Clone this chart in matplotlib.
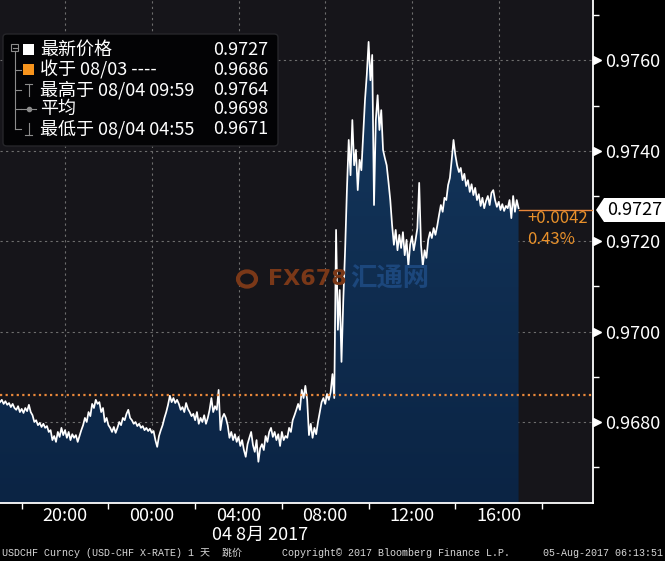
import numpy as np
import matplotlib
matplotlib.use('Agg')
import matplotlib.pyplot as plt
import matplotlib.patches as mpatches
import matplotlib.transforms as mtransforms
from matplotlib.colors import LinearSegmentedColormap

plt.rcParams['font.family'] = ['Noto Sans CJK SC', 'DejaVu Sans']

# USDCHF, 5 分钟一个点, 从 08/03 17:00 开始
start_hour = 17.0
step_min = 5
price = [
    0.96844, 0.96849, 0.96840, 0.96846, 0.96838, 0.96842, 0.96833, 0.96840, 0.96831, 0.96827,
    0.96835, 0.96822, 0.96829, 0.96820, 0.96831, 0.96824, 0.96838, 0.96822, 0.96815, 0.96800,
    0.96804, 0.96793, 0.96798, 0.96789, 0.96796, 0.96787, 0.96791, 0.96778, 0.96782, 0.96760,
    0.96769, 0.96756, 0.96778, 0.96767, 0.96787, 0.96771, 0.96782, 0.96765, 0.96778, 0.96760,
    0.96773, 0.96765, 0.96771, 0.96756, 0.96769, 0.96782, 0.96793, 0.96809, 0.96800, 0.96822,
    0.96813, 0.96840, 0.96831, 0.96849, 0.96840, 0.96844, 0.96822, 0.96831, 0.96800, 0.96809,
    0.96793, 0.96787, 0.96778, 0.96789, 0.96776, 0.96787, 0.96800, 0.96793, 0.96809, 0.96804,
    0.96818, 0.96827, 0.96809,
    # 21:00 - 04:00
    0.96804, 0.96796, 0.96800, 0.96791, 0.96796, 0.96787, 0.96791, 0.96782, 0.96787, 0.96780,
    0.96785, 0.96776, 0.96780, 0.96760, 0.96745, 0.96769, 0.96782, 0.96793, 0.96809, 0.96822,
    0.96838, 0.96858, 0.96844, 0.96853, 0.96842, 0.96849, 0.96840, 0.96827, 0.96833, 0.96822,
    0.96842, 0.96829, 0.96822, 0.96813, 0.96818, 0.96804, 0.96822, 0.96796, 0.96809, 0.96800,
    0.96815, 0.96796, 0.96809, 0.96827, 0.96853, 0.96822, 0.96835, 0.96827, 0.96871, 0.96782,
    0.96809, 0.96818, 0.96809, 0.96793, 0.96765, 0.96778, 0.96760, 0.96773, 0.96756, 0.96767,
    0.96747, 0.96760, 0.96738, 0.96723, 0.96751, 0.96765,
    # 04:30 - 08:25
    0.96778, 0.96749, 0.96734, 0.96760, 0.96712, 0.96742, 0.96751, 0.96738, 0.96769, 0.96756,
    0.96778, 0.96787, 0.96767, 0.96778, 0.96760, 0.96773, 0.96747, 0.96778, 0.96760, 0.96769,
    0.96765, 0.96787, 0.96778, 0.96804, 0.96815, 0.96827, 0.96840, 0.96827, 0.96871, 0.96853,
    0.96880, 0.96849, 0.96771, 0.96796, 0.96765, 0.96787, 0.96773, 0.96800, 0.96822, 0.96844,
    0.96853, 0.96840, 0.96862, 0.96849, 0.96866, 0.96906, 0.96853,
    # 08:30 - 16:55
    0.97225, 0.97004, 0.97092, 0.96933, 0.97070, 0.97180, 0.97313, 0.97424, 0.97346, 0.97468,
    0.97368, 0.97402, 0.97313, 0.97380, 0.97357, 0.97435, 0.97512, 0.97568, 0.97641, 0.97556,
    0.97612, 0.97280, 0.97468, 0.97523, 0.97446, 0.97490, 0.97402, 0.97384, 0.97368, 0.97331,
    0.97291, 0.97236, 0.97192, 0.97225, 0.97180, 0.97214, 0.97185, 0.97220, 0.97169, 0.97203,
    0.97145, 0.97192, 0.97211, 0.97180, 0.97203, 0.97229, 0.97329, 0.97192, 0.97145, 0.97180,
    0.97163, 0.97203, 0.97220, 0.97207, 0.97229, 0.97214, 0.97234, 0.97258, 0.97280, 0.97265,
    0.97296, 0.97291, 0.97324, 0.97340, 0.97380, 0.97424, 0.97391, 0.97368, 0.97353, 0.97362,
    0.97335, 0.97349, 0.97322, 0.97335, 0.97309, 0.97326, 0.97302, 0.97318, 0.97291, 0.97304,
    0.97278, 0.97296, 0.97273, 0.97289, 0.97300, 0.97280, 0.97307, 0.97313, 0.97291, 0.97276,
    0.97287, 0.97269, 0.97282, 0.97267, 0.97278, 0.97273, 0.97291, 0.97251, 0.97300, 0.97265,
    0.97291, 0.97273,
]
hours = start_hour + np.arange(len(price)) * step_min / 60.0

prev_close = 0.9686
last_price = 0.9727
change_txt = '+0.0042'
pct_txt = '0.43%'

leg_names = ['最新价格', '收于 08/03 ----', '最高于 08/04 09:59', '平均', '最低于 08/04 04:55']
leg_values = ['0.9727', '0.9686', '0.9764', '0.9698', '0.9671']

xtick_hours = [20, 24, 28, 32, 36, 40]
xtick_labels = ['20:00', '00:00', '04:00', '08:00', '12:00', '16:00']
xminor_hours = [18, 22, 26, 30, 34, 38, 42]
yticks = [0.9680, 0.9700, 0.9720, 0.9740, 0.9760]
yminor = [0.9670, 0.9690, 0.9710, 0.9730, 0.9750, 0.9770]

W, H = 665, 561
def fx(px):
    return px / W
def fy(py):
    return 1 - py / H

fig = plt.figure(figsize=(6.65, 5.61), dpi=100, facecolor='black')
ax = fig.add_axes([0, fy(503), fx(593), 503 / H])
ax.set_facecolor('#16151a')

xmin, xmax = 17.0, 44.35
ymin, ymax = 0.966208, 0.977336
ax.set_xlim(xmin, xmax)
ax.set_ylim(ymin, ymax)

# grid
for h in xtick_hours:
    ax.axvline(h, color='#6e6e6e', lw=0.8, ls=(0, (2, 3)), zorder=1)
for v in yticks:
    ax.axhline(v, color='#6e6e6e', lw=0.8, ls=(0, (2, 3)), zorder=1)

# area with gradient
poly = ax.fill_between(hours, price, ymin, color='none', lw=0, zorder=2)
cmap = LinearSegmentedColormap.from_list('fillc', ['#0b2444', '#153960'])
grad = np.linspace(1, 0, 256).reshape(-1, 1)
im = ax.imshow(grad, extent=[xmin, xmax, ymin, ymax], aspect='auto', cmap=cmap,
               origin='upper', zorder=2)
im.set_clip_path(poly.get_paths()[0], transform=ax.transData)
ax.set_xlim(xmin, xmax)
ax.set_ylim(ymin, ymax)

ax.plot(hours, price, color='white', lw=1.25, zorder=4)

# watermark
fig.text(fx(268), fy(279), 'FX678', color='#7a3818', fontsize=16, fontweight='bold',
         va='center', ha='left', zorder=3, family=['DejaVu Sans'])
fig.text(fx(350), fy(279), '汇通网', color='#1c477c', fontsize=19, fontweight='bold',
         va='center', ha='left', zorder=3)
fig.add_artist(mpatches.Circle((fx(247), fy(279)), 9 / W, transform=fig.transFigure,
                               facecolor='none', edgecolor='#7a3818', lw=3, zorder=3))

# previous close line
ax.axhline(prev_close, color='#e8873a', lw=1.6, ls=(0, (1, 1.5)), zorder=5)

# last price guide
ax.plot([hours[-1], xmax], [last_price, last_price], color='#e8873a', lw=1.0, zorder=5)
blend = mtransforms.blended_transform_factory(ax.transAxes, ax.transData)
ax.text(fx(527) / fx(593), last_price - 0.0002, change_txt, color='#e8902a', fontsize=12,
        transform=blend, va='center', ha='left', zorder=6)
ax.text(fx(527) / fx(593), last_price - 0.00066, pct_txt, color='#e8902a', fontsize=12,
        transform=blend, va='center', ha='left', zorder=6)

# spines
for s in ['top', 'left']:
    ax.spines[s].set_visible(False)
for s in ['right', 'bottom']:
    ax.spines[s].set_color('white')
    ax.spines[s].set_linewidth(1.3)

# y axis on right
ax.yaxis.tick_right()
ax.set_yticks(yticks)
ax.set_yticklabels(['%.4f' % v for v in yticks])
ax.set_yticks(yminor, minor=True)
ax.tick_params(axis='y', which='major', length=0, pad=9, labelcolor='white', labelsize=13)
ax.tick_params(axis='y', which='minor', length=4, width=1, color='white', direction='out')
ax.plot([1.007] * len(yticks), yticks, ls='none', marker='>', ms=6, color='white',
        transform=blend, clip_on=False, zorder=6)

# x axis
ax.set_xticks(xtick_hours)
ax.set_xticklabels(xtick_labels)
ax.set_xticks(xminor_hours, minor=True)
ax.tick_params(axis='x', which='major', length=0, pad=3, labelcolor='white', labelsize=13)
ax.tick_params(axis='x', which='minor', length=4, width=1, color='white', direction='out')
fig.text(fx(260), fy(535), '04 8月 2017', color='white', fontsize=13, ha='center', va='center')

# current price tag
tag = mpatches.Polygon([(fx(596), fy(210)), (fx(604), fy(198)), (fx(665), fy(198)),
                        (fx(665), fy(222)), (fx(604), fy(222))], closed=True,
                       transform=fig.transFigure, facecolor='white', edgecolor='none')
fig.add_artist(tag)
fig.text(fx(607), fy(210), '%.4f' % last_price, color='black', fontsize=13,
         ha='left', va='center')

# legend box
box = mpatches.FancyBboxPatch((fx(3), fy(146)), fx(275), (146 - 34) / H,
                              boxstyle='round,pad=0,rounding_size=0.006',
                              transform=fig.transFigure, facecolor='#030305',
                              edgecolor='#26262a', lw=1)
fig.add_artist(box)
row_y = [50, 70, 90, 109, 129]
grey = '#8c8c8c'
fig.add_artist(plt.Line2D([fx(15), fx(15)], [fy(51), fy(129)], color=grey, lw=0.8))
fig.add_artist(mpatches.Rectangle((fx(11), fy(51)), fx(7), 7 / H, transform=fig.transFigure,
                                  facecolor='#030305', edgecolor=grey, lw=0.8))
fig.add_artist(plt.Line2D([fx(12.5), fx(16.5)], [fy(47.5), fy(47.5)], color=grey, lw=0.8))
for ry in row_y[1:]:
    fig.add_artist(plt.Line2D([fx(15), fx(21)], [fy(ry), fy(ry)], color=grey, lw=0.8))
fig.add_artist(mpatches.Rectangle((fx(23), fy(55)), fx(11), 11 / H, transform=fig.transFigure,
                                  facecolor='white', edgecolor='none'))
fig.add_artist(mpatches.Rectangle((fx(23), fy(75)), fx(11), 11 / H, transform=fig.transFigure,
                                  facecolor='#f7941d', edgecolor='none'))
fig.add_artist(plt.Line2D([fx(28.5), fx(28.5)], [fy(84), fy(96)], color=grey, lw=0.8))
fig.add_artist(plt.Line2D([fx(25), fx(32)], [fy(84), fy(84)], color=grey, lw=0.8))
fig.add_artist(plt.Line2D([fx(21), fx(36)], [fy(109), fy(109)], color=grey, lw=0.8))
fig.add_artist(plt.Line2D([fx(28.5)], [fy(109)], color=grey, marker='o', ms=3, ls='none'))
fig.add_artist(plt.Line2D([fx(28.5), fx(28.5)], [fy(123), fy(135)], color=grey, lw=0.8))
fig.add_artist(plt.Line2D([fx(25), fx(32)], [fy(135), fy(135)], color=grey, lw=0.8))
for ry, name, val in zip(row_y, leg_names, leg_values):
    fig.text(fx(40), fy(ry), name, color='white', fontsize=13, ha='left', va='center')
    fig.text(fx(268), fy(ry), val, color='white', fontsize=13, ha='right', va='center')

# footer
foot_font = ['Liberation Mono', 'Noto Sans CJK SC']
fig.text(fx(2), fy(553), 'USDCHF Curncy (USD-CHF X-RATE) 1 天  跳价', color='#d8d8d8',
         fontsize=7.2, family=foot_font, ha='left', va='center')
fig.text(fx(282), fy(553), 'Copyright© 2017 Bloomberg Finance L.P.', color='#d8d8d8',
         fontsize=7.2, family=foot_font, ha='left', va='center')
fig.text(fx(663), fy(553), '05-Aug-2017 06:13:51', color='#d8d8d8',
         fontsize=7.2, family=foot_font, ha='right', va='center')

fig.savefig('out.png', dpi=100, facecolor='black')
